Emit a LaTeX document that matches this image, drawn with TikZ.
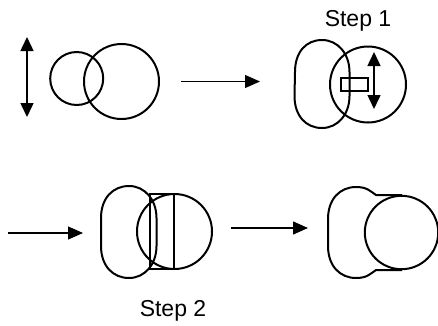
\documentclass[tikz,border=0pt]{standalone}
\usepackage{fontspec}
\setmainfont{Liberation Sans}
\usetikzlibrary{arrows.meta}
\tikzset{
  outline/.style={line width=2pt,black},
  flow/.style={line width=1.1pt,black,-{Triangle[length=15pt,width=13pt]}},
  updown/.style={line width=1.5pt,black,{Triangle[length=14pt,width=13pt]}-{Triangle[length=14pt,width=13pt]}},
  steplabel/.style={font=\fontsize{23}{25}\selectfont,inner sep=0pt}
}
\begin{document}
\begin{tikzpicture}[x=1pt,y=-1pt]
\useasboundingbox (0,0) rectangle (438,325);
% Top left
\coordinate (ua) at (27,37); \coordinate (ub) at (27,117);
\draw[updown] (ua) -- (ub);
\draw[outline] (76.7,78.5) circle (26.5);
\draw[outline] (121.5,81.5) circle (37.5);
\coordinate (f1a) at (181,81.5); \coordinate (f1b) at (260,81.5);
\draw[flow] (f1a) -- (f1b);
% Step 1
\node[steplabel] (s1) at (358,21) {Step 1};
\draw[outline] (322,40) .. controls (306,40) and (295,52) .. (295,72)
  -- (294.5,96) .. controls (294.5,116) and (306,128) .. (322,128)
  .. controls (338,128) and (349.5,114) .. (349.5,96)
  -- (349.5,72) .. controls (349.5,54) and (338,40) .. (322,40) -- cycle;
\draw[outline] (368,84.5) circle (38);
\draw[outline] (341,77.5) rectangle (368,91);
\coordinate (u2a) at (374,52); \coordinate (u2b) at (374,109);
\draw[updown] (u2a) -- (u2b);
% Row 2
\coordinate (f2a) at (8,233); \coordinate (f2b) at (83,233);
\draw[flow] (f2a) -- (f2b);
\draw[outline] (129,186) .. controls (113,186) and (101,198) .. (101,218)
  -- (101,246) .. controls (101,266) and (113,278) .. (129,278)
  .. controls (145,278) and (156.5,264) .. (156.5,246)
  -- (156.5,218) .. controls (156.5,200) and (145,186) .. (129,186) -- cycle;
\draw[outline] (174.5,231.5) circle (37.5);
\draw[outline] (149,194) -- (174.5,194) (149,269) -- (174.5,269);
\draw[outline] (174,194) -- (174,269);
\draw[outline] (150,194) -- (150,269);
\node[steplabel] (s2) at (173,311) {Step 2};
% Arrow 3
\coordinate (f3a) at (231,228); \coordinate (f3b) at (308,228);
\draw[flow] (f3a) -- (f3b);
% Final
\draw[outline] (402,195) -- (376,195) .. controls (370,191) and (367,187) .. (356,187)
  .. controls (340,187) and (328,199) .. (328,219)
  -- (328,246) .. controls (328,266) and (340,278) .. (356,278)
  .. controls (367,278) and (370,274) .. (376,270) -- (402,270);
\draw[outline] (401.5,232.5) circle (36.7);
\end{tikzpicture}
\end{document}
